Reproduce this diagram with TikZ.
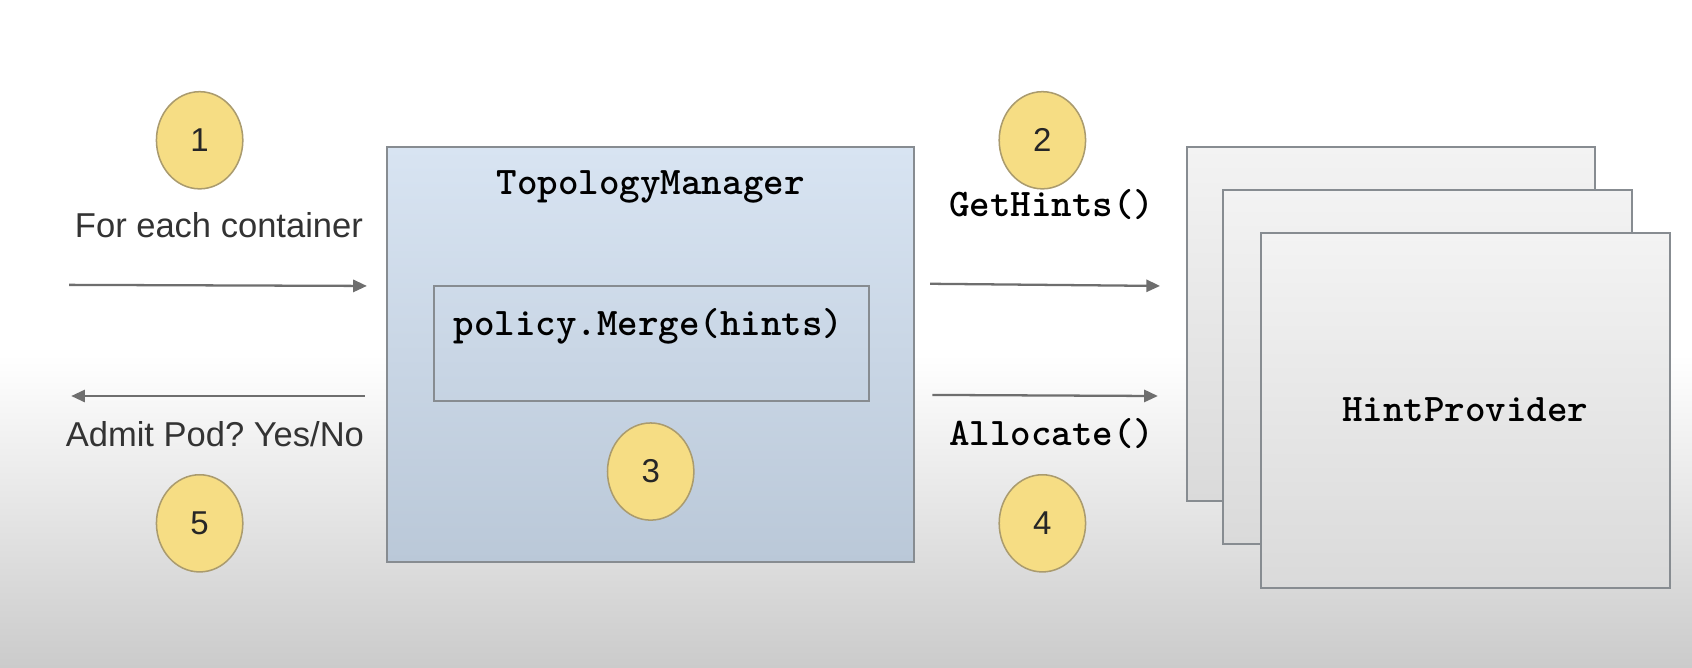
\documentclass[tikz,border=0pt]{standalone}
\usepackage{fontspec}
\setmainfont{Liberation Sans}
\setmonofont{Latin Modern Mono Light}
\usetikzlibrary{shapes.geometric,arrows.meta}
\definecolor{numfill}{RGB}{246,221,132}
\definecolor{numedge}{RGB}{170,155,110}
\definecolor{boxedge}{RGB}{135,140,145}
\definecolor{arrowgray}{RGB}{110,110,110}
\definecolor{tmtop}{RGB}{216,228,242}
\definecolor{tmbot}{RGB}{186,200,216}
\definecolor{hptop}{RGB}{243,243,243}
\definecolor{hpbot}{RGB}{218,218,218}
\definecolor{bgbot}{RGB}{203,203,203}
\begin{document}
\begin{tikzpicture}[x=0.01cm,y=-0.01cm,
  numcircle/.style={ellipse,draw=numedge,line width=0.4pt,fill=numfill,
    minimum width=0.8cm,minimum height=0.9cm,inner sep=0pt,
    font=\fontsize{8.7}{10}\selectfont,text=black!85},
  sanslabel/.style={inner sep=0pt,font=\fontsize{9.1}{11}\selectfont\frenchspacing,text=black!80},
  monolabel/.style={inner sep=0pt,font=\fontsize{10.3}{12}\ttfamily\bfseries\selectfont},
  flowarrow/.style={draw=arrowgray,line width=0.6pt,-{Triangle[length=3.6pt,width=3.2pt]}},
  tmbox/.style={draw=boxedge,line width=0.5pt,top color=tmtop,bottom color=tmbot},
  hpbox/.style={draw=boxedge,line width=0.5pt,top color=hptop,bottom color=hpbot},
  innerbox/.style={draw=boxedge,line width=0.5pt}]
\useasboundingbox (0,0) rectangle (1568,619);
% background
\fill[white] (0,0) rectangle (1568,330);
\shade[top color=white,bottom color=bgbot] (0,329) rectangle (1568,619);
% TopologyManager box
\path[tmbox] (359,136) rectangle (847,521);
\node[monolabel] (tm) at (603,173) {TopologyManager};
\path[innerbox] (402,265) rectangle (805,372);
\node[monolabel] (merge) at (601,302) {policy.Merge(hints)};
\node[numcircle] (n3) at (603,437) {3};
% HintProvider stack
\path[hpbox] (1100,136) rectangle (1478,464);
\path[hpbox] (1133,176) rectangle (1512,504);
\path[hpbox] (1169,216) rectangle (1548,545);
\node[monolabel] (hp) at (1358,380) {HintProvider};
% left side
\node[numcircle] (n1) at (185,130) {1};
\node[sanslabel,anchor=east] (l1) at (337,209) {For each container};
\coordinate (a1s) at (64,264);
\coordinate (a1e) at (340,265);
\draw[flowarrow] (a1s) -- (a1e);
\coordinate (a5s) at (338,367);
\coordinate (a5e) at (66,367);
\draw[flowarrow] (a5s) -- (a5e);
\node[sanslabel,anchor=east] (l5) at (338,402) {Admit Pod? Yes/No};
\node[numcircle] (n5) at (185,485) {5};
% right side
\node[numcircle] (n2) at (966,130) {2};
\node[monolabel,anchor=west] (l2) at (879,190) {GetHints()};
\coordinate (a2s) at (862,263);
\coordinate (a2e) at (1075,265);
\draw[flowarrow] (a2s) -- (a2e);
\coordinate (a4s) at (864,366);
\coordinate (a4e) at (1073,367);
\draw[flowarrow] (a4s) -- (a4e);
\node[monolabel,anchor=west] (l4) at (879,402) {Allocate()};
\node[numcircle] (n4) at (966,485) {4};
\end{tikzpicture}
\end{document}
